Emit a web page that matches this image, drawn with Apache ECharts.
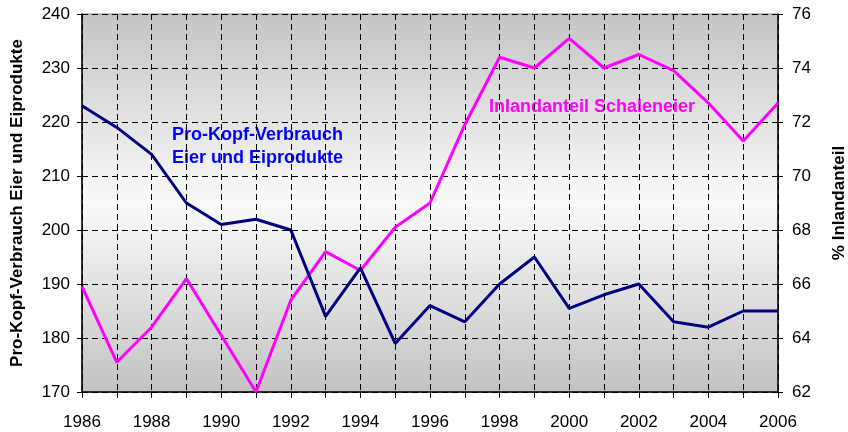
<!DOCTYPE html>
<html>
<head>
<meta charset="utf-8">
<script src="https://cdn.jsdelivr.net/npm/echarts@6/dist/echarts.min.js"></script>
<style>
  html, body { margin: 0; padding: 0; background: #fff; }
  #chart { width: 848px; height: 432px; }
</style>
</head>
<body>
<div id="chart"></div>
<script>
// Jahre
const years = [1986, 1987, 1988, 1989, 1990, 1991, 1992, 1993, 1994, 1995, 1996,
  1997, 1998, 1999, 2000, 2001, 2002, 2003, 2004, 2005, 2006];
// Pro-Kopf-Verbrauch Eier und Eiprodukte (linke Achse)
const verbrauch = [223, 219, 214, 205, 201, 202, 200, 184, 193, 179, 186,
  183, 190, 195, 185.5, 188, 190, 183, 182, 185, 185];
// Inlandanteil Schaleneier in % (rechte Achse)
const inlandanteil = [65.9, 63.1, 64.4, 66.2, 64.1, 62.0, 65.4, 67.2, 66.5, 68.1, 69.0,
  71.9, 74.4, 74.0, 75.1, 74.0, 74.5, 73.9, 72.7, 71.3, 72.7];

const font = 'Liberation Sans, Arial, sans-serif';
const dashed = { color: '#000', width: 1, type: [6, 4] };

const chart = echarts.init(document.getElementById('chart'));

const option = {
  animation: false,
  textStyle: { fontFamily: font },
  grid: {
    left: 82,
    right: 70,
    top: 14,
    bottom: 40,
    outerBoundsMode: 'none',
    containLabel: false,
    show: true,
    borderColor: '#888',
    borderWidth: 1,
    // grauer Verlauf, in der Mitte hell
    backgroundColor: new echarts.graphic.LinearGradient(0, 0, 0, 1, [
      { offset: 0, color: '#c5c5c5' },
      { offset: 0.5, color: '#fafafa' },
      { offset: 1, color: '#c3c3c3' },
    ]),
  },
  xAxis: {
    type: 'value',
    min: 1986,
    max: 2006,
    interval: 1,
    axisLine: { show: true, onZero: false, lineStyle: { color: '#000', width: 1.5 } },
    axisTick: { show: true, length: 6, lineStyle: { color: '#000' } },
    axisLabel: {
      color: '#000',
      fontSize: 17,
      margin: 22,
      formatter: (v) => (v % 2 === 0 ? String(v) : ''),
    },
    splitLine: { show: true, lineStyle: dashed },
  },
  yAxis: [
    {
      type: 'value',
      min: 170,
      max: 240,
      interval: 10,
      name: 'Pro-Kopf-Verbrauch Eier und Eiprodukte',
      nameLocation: 'middle',
      nameGap: 56,
      nameTextStyle: { color: '#000', fontSize: 17, fontWeight: 'bold' },
      axisLine: { show: true, lineStyle: { color: '#000', width: 1.5 } },
      axisTick: { show: true, length: 5, lineStyle: { color: '#000' } },
      axisLabel: { color: '#000', fontSize: 17, margin: 12 },
      splitLine: { show: true, lineStyle: dashed },
    },
    {
      type: 'value',
      min: 62,
      max: 76,
      interval: 2,
      position: 'right',
      name: '% Inlandanteil',
      nameLocation: 'middle',
      nameGap: 53,
      nameTextStyle: { color: '#000', fontSize: 17, fontWeight: 'bold' },
      axisLine: { show: true, lineStyle: { color: '#000', width: 1.5 } },
      axisTick: { show: true, length: 5, lineStyle: { color: '#000' } },
      axisLabel: { color: '#000', fontSize: 17, margin: 14 },
      splitLine: { show: false },
    },
  ],
  series: [
    {
      name: 'Pro-Kopf-Verbrauch',
      type: 'line',
      yAxisIndex: 0,
      showSymbol: false,
      lineStyle: { color: '#000080', width: 3 },
      data: years.map((y, i) => [y, verbrauch[i]]),
      z: 3,
    },
    {
      name: 'Inlandanteil Schaleneier',
      type: 'line',
      yAxisIndex: 1,
      showSymbol: false,
      lineStyle: { color: '#ff00ff', width: 3 },
      data: years.map((y, i) => [y, inlandanteil[i]]),
      z: 2,
    },
  ],
  graphic: [
    {
      type: 'text',
      left: 172,
      top: 124,
      style: {
        text: 'Pro-Kopf-Verbrauch\nEier und Eiprodukte',
        fill: '#0000ff',
        font: 'bold 18px ' + font,
        lineHeight: 23,
      },
    },
    {
      type: 'text',
      left: 489,
      top: 98,
      style: {
        text: 'Inlandanteil Schaleneier',
        fill: '#ff00ff',
        font: 'bold 18px ' + font,
      },
    },
  ],
};

chart.setOption(option);
</script>
</body>
</html>
